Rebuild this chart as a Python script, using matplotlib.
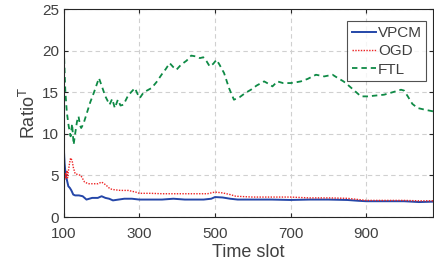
import matplotlib
matplotlib.use("Agg")
import matplotlib.pyplot as plt

# ---- data ----
t_ftl = [100, 101, 104, 108, 113, 118, 122, 126, 130, 135, 139, 143, 146, 152, 161, 170, 180, 193,
         200, 210, 221, 228, 235, 243, 250, 258, 270, 280, 288, 295, 301, 310, 320, 332, 345, 360,
         370, 380, 390, 398, 410, 425, 437, 450, 460, 469, 478, 486, 495, 504, 512, 524, 537, 550,
         565, 580, 595, 610, 630, 642, 652, 665, 680, 700, 715, 727, 745, 767, 778, 789, 800, 811,
         825, 840, 851, 866, 886, 904, 925, 947, 970, 992, 1000, 1010, 1022, 1036, 1055, 1077]
v_ftl = [20.2, 19.0, 15.2, 12.6, 10.9, 9.7, 11.2, 8.7, 10.0, 11.5, 12.1, 11.0, 10.7, 11.2, 12.5, 13.8, 15.0, 16.7,
         15.8, 14.5, 13.5, 14.2, 13.1, 14.1, 13.4, 13.5, 14.6, 15.1, 15.5, 14.8, 14.3, 14.9, 15.2, 15.5, 16.2, 17.2,
         17.8, 18.5, 18.0, 17.7, 18.3, 18.8, 19.4, 19.3, 19.1, 19.2, 18.7, 18.1, 18.4, 18.9, 18.3, 17.3, 15.5, 14.1,
         14.4, 14.9, 15.3, 15.8, 16.3, 16.0, 15.7, 16.3, 16.1, 16.1, 16.2, 16.3, 16.6, 17.1, 17.0, 16.9, 17.0, 17.1,
         16.7, 16.3, 15.9, 15.3, 14.5, 14.5, 14.6, 14.7, 15.0, 15.3, 15.2, 14.5, 13.6, 13.1, 12.9, 12.7]

t_vpcm = [100, 102, 105, 108, 112, 116, 120, 125, 130, 140, 150, 160, 175, 190, 200, 210, 220, 230,
          245, 260, 280, 300, 330, 360, 390, 420, 450, 470, 490, 500, 520, 540, 560, 600, 650, 700,
          750, 800, 850, 880, 900, 950, 1000, 1040, 1077]
v_vpcm = [8.3, 6.5, 5.0, 4.5, 3.7, 3.5, 3.2, 2.7, 2.6, 2.6, 2.5, 2.1, 2.3, 2.3, 2.5, 2.3, 2.2, 2.0,
          2.1, 2.2, 2.2, 2.1, 2.1, 2.1, 2.2, 2.1, 2.1, 2.1, 2.2, 2.4, 2.35, 2.2, 2.1, 2.1, 2.1, 2.05,
          2.1, 2.1, 2.05, 1.95, 1.9, 1.9, 1.9, 1.8, 1.85]

t_ogd = [100, 102, 104, 106, 108, 110, 112, 115, 118, 122, 125, 130, 138, 145, 150, 155, 165, 180,
         190, 200, 207, 215, 222, 230, 250, 270, 290, 300, 330, 360, 400, 440, 480, 500, 520, 540,
         555, 600, 650, 700, 750, 800, 850, 880, 900, 950, 1000, 1040, 1077]
v_ogd = [5.0, 4.4, 5.3, 4.6, 5.6, 4.7, 5.5, 6.4, 7.1, 6.8, 6.0, 5.2, 5.1, 5.0, 4.6, 4.2, 4.0, 4.0,
         4.0, 4.2, 4.0, 3.7, 3.4, 3.3, 3.2, 3.2, 3.0, 2.85, 2.85, 2.8, 2.8, 2.8, 2.8, 3.0, 2.9, 2.7,
         2.5, 2.4, 2.4, 2.4, 2.3, 2.3, 2.25, 2.1, 2.0, 2.0, 2.0, 1.95, 1.95]

series_names = ["VPCM", "OGD", "FTL"]
x_ticks = [100, 300, 500, 700, 900]
y_ticks = [0, 5, 10, 15, 20, 25]

plt.rcParams['font.family'] = ['Liberation Sans', 'DejaVu Sans']
text_col = '#404040'

fig = plt.figure(figsize=(4.34, 2.65), dpi=100)
ax = fig.add_axes([0.147, 0.181, 0.851, 0.785])

ax.plot(t_vpcm, v_vpcm, color='#2446a8', lw=1.4, ls='-', label=series_names[0])
ax.plot(t_ogd, v_ogd, color='#ee2222', lw=1.0, ls=(0, (1, 1)), label=series_names[1])
ax.plot(t_ftl, v_ftl, color='#0e8a45', lw=1.3, ls=(0, (3, 2.2)), label=series_names[2])

ax.set_xlim(100, 1077)
ax.set_ylim(0, 25)
ax.set_xticks(x_ticks)
ax.set_yticks(y_ticks)
ax.tick_params(direction='in', length=3, colors='#262626', labelcolor=text_col, labelsize=11,
               top=True, right=True)
ax.tick_params(axis='x', pad=7)
ax.tick_params(axis='y', pad=3.5)
ax.grid(True, color='#d0d0d0', ls=(0, (4, 3)), lw=0.8)
ax.set_axisbelow(True)
for s in ax.spines.values():
    s.set_color('#262626')
    s.set_linewidth(0.8)

ax.set_xlabel('Time slot', fontsize=13, color=text_col, labelpad=2)
ax.set_ylabel(r'Ratio$^{\mathrm{T}}$', fontsize=13, color=text_col, labelpad=2)

leg = ax.legend(loc='upper right', bbox_to_anchor=(0.982, 0.94), fontsize=11, frameon=True,
                fancybox=False, edgecolor='#262626', handlelength=1.55, handletextpad=0.15,
                borderpad=0.3, labelspacing=0.28, borderaxespad=0.0)
leg.get_frame().set_linewidth(0.8)
for txt in leg.get_texts():
    txt.set_color(text_col)

fig.savefig('out.png', dpi=100)
